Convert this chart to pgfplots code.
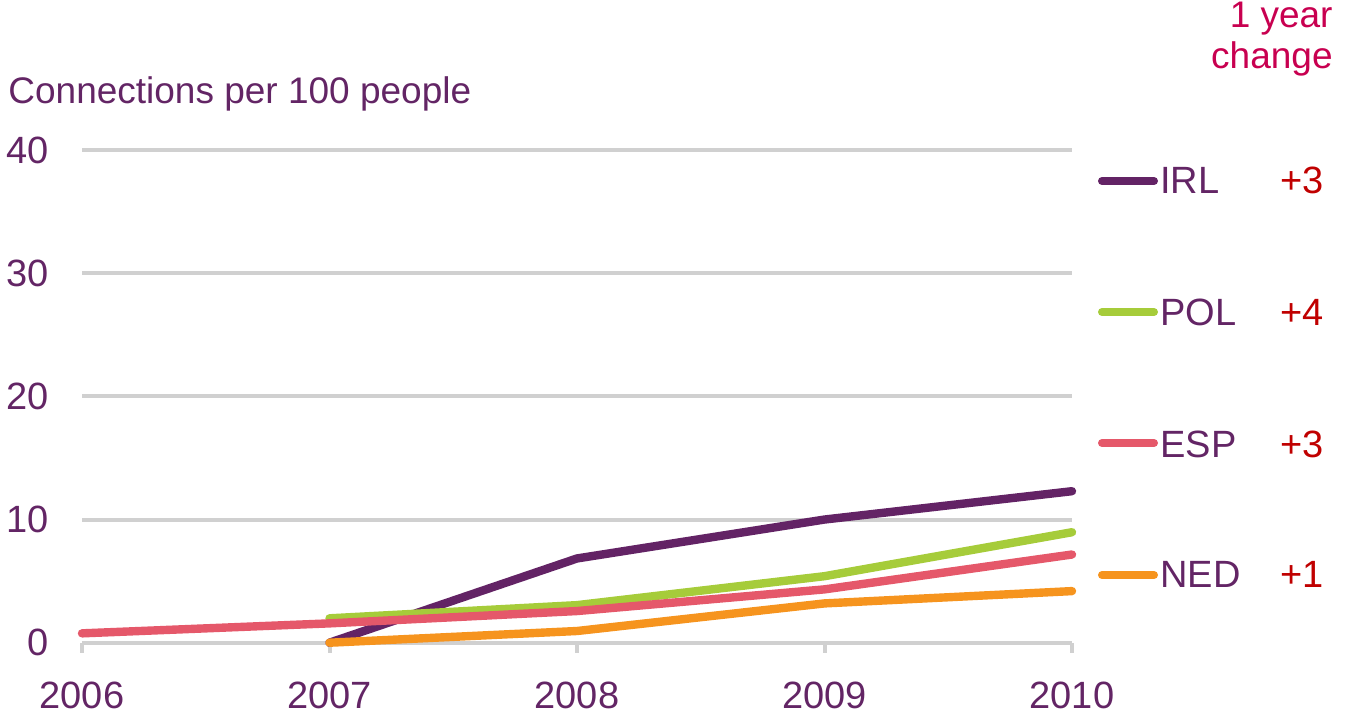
\documentclass[border=0pt]{standalone}
\usepackage{pgfplots}
\pgfplotsset{compat=1.18}
\usepackage{fontspec}
\setmainfont{Liberation Sans}
\definecolor{irl}{RGB}{99,35,101}
\definecolor{pol}{RGB}{166,204,58}
\definecolor{esp}{RGB}{229,88,106}
\definecolor{ned}{RGB}{246,148,30}
\definecolor{gridgray}{RGB}{208,208,208}
\definecolor{txtpurple}{RGB}{99,37,101}
\definecolor{crimson}{RGB}{200,0,80}
\definecolor{chg}{RGB}{192,0,0}
\begin{document}
\begin{tikzpicture}
\path[use as bounding box] (0,0) rectangle (674.5pt,360pt);
\begin{axis}[
  at={(41pt,38.65pt)}, anchor=south west,
  scale only axis, width=495pt, height=246.35pt,
  xmin=2006, xmax=2010, ymin=0, ymax=40,
  axis x line=bottom, axis y line=left,
  y axis line style={draw=none},
  x axis line style={draw=gridgray, line width=2pt, -},
  xtick={2006,2007,2008,2009,2010},
  ytick={0,10,20,30,40},
  ymajorgrids, grid style={draw=gridgray, line width=2pt},
  ytick style={draw=none},
  xtick style={draw=gridgray, line width=2pt},
  major tick length=5pt, tick align=outside,
  clip=false,
  /pgf/number format/assume math mode=true,
  /pgf/number format/1000 sep={},
  tick label style={font=\fontsize{19pt}{22pt}\selectfont, text=txtpurple},
  x tick label style={yshift=-11pt},
  y tick label style={xshift=-8pt},
  every axis plot/.append style={line width=4.2pt, line cap=round, line join=round},
]
\addplot[irl] coordinates {(2007,0) (2008,6.84) (2009,10.0) (2010,12.3)};
\addplot[pol] coordinates {(2007,1.98) (2008,3.05) (2009,5.4) (2010,8.97)};
\addplot[esp] coordinates {(2006,0.76) (2007,1.57) (2008,2.57) (2009,4.33) (2010,7.16)};
\addplot[ned] coordinates {(2007,0) (2008,0.95) (2009,3.19) (2010,4.19)};
\end{axis}
\node[anchor=base west, text=txtpurple, font=\fontsize{18.5pt}{22pt}\selectfont, inner sep=0pt] at (4pt,308.5pt) {Connections per 100 people};
\node[anchor=base east, text=crimson, font=\fontsize{18.5pt}{22pt}\selectfont, inner sep=0pt] at (666.5pt,346.5pt) {1 year};
\node[anchor=base east, text=crimson, font=\fontsize{18.5pt}{22pt}\selectfont, inner sep=0pt] at (666.5pt,326pt) {change};
\begin{scope}[every node/.style={anchor=base west, inner sep=0pt, font=\fontsize{19pt}{22pt}\selectfont}]
\draw[irl, line width=4pt, line cap=round] (551pt,269.5pt) -- (577pt,269.5pt);
\node[text=txtpurple] at (580pt,263.5pt) {IRL};
\node[text=chg] at (640pt,263.5pt) {+3};
\draw[pol, line width=4pt, line cap=round] (551pt,204pt) -- (577pt,204pt);
\node[text=txtpurple] at (580pt,197.5pt) {POL};
\node[text=chg] at (640pt,197.5pt) {+4};
\draw[esp, line width=4pt, line cap=round] (551pt,138.5pt) -- (577pt,138.5pt);
\node[text=txtpurple] at (580pt,131.5pt) {ESP};
\node[text=chg] at (640pt,131.5pt) {+3};
\draw[ned, line width=4pt, line cap=round] (551pt,72.5pt) -- (577pt,72.5pt);
\node[text=txtpurple] at (580pt,66.5pt) {NED};
\node[text=chg] at (640pt,66.5pt) {+1};
\end{scope}
\end{tikzpicture}
\end{document}
